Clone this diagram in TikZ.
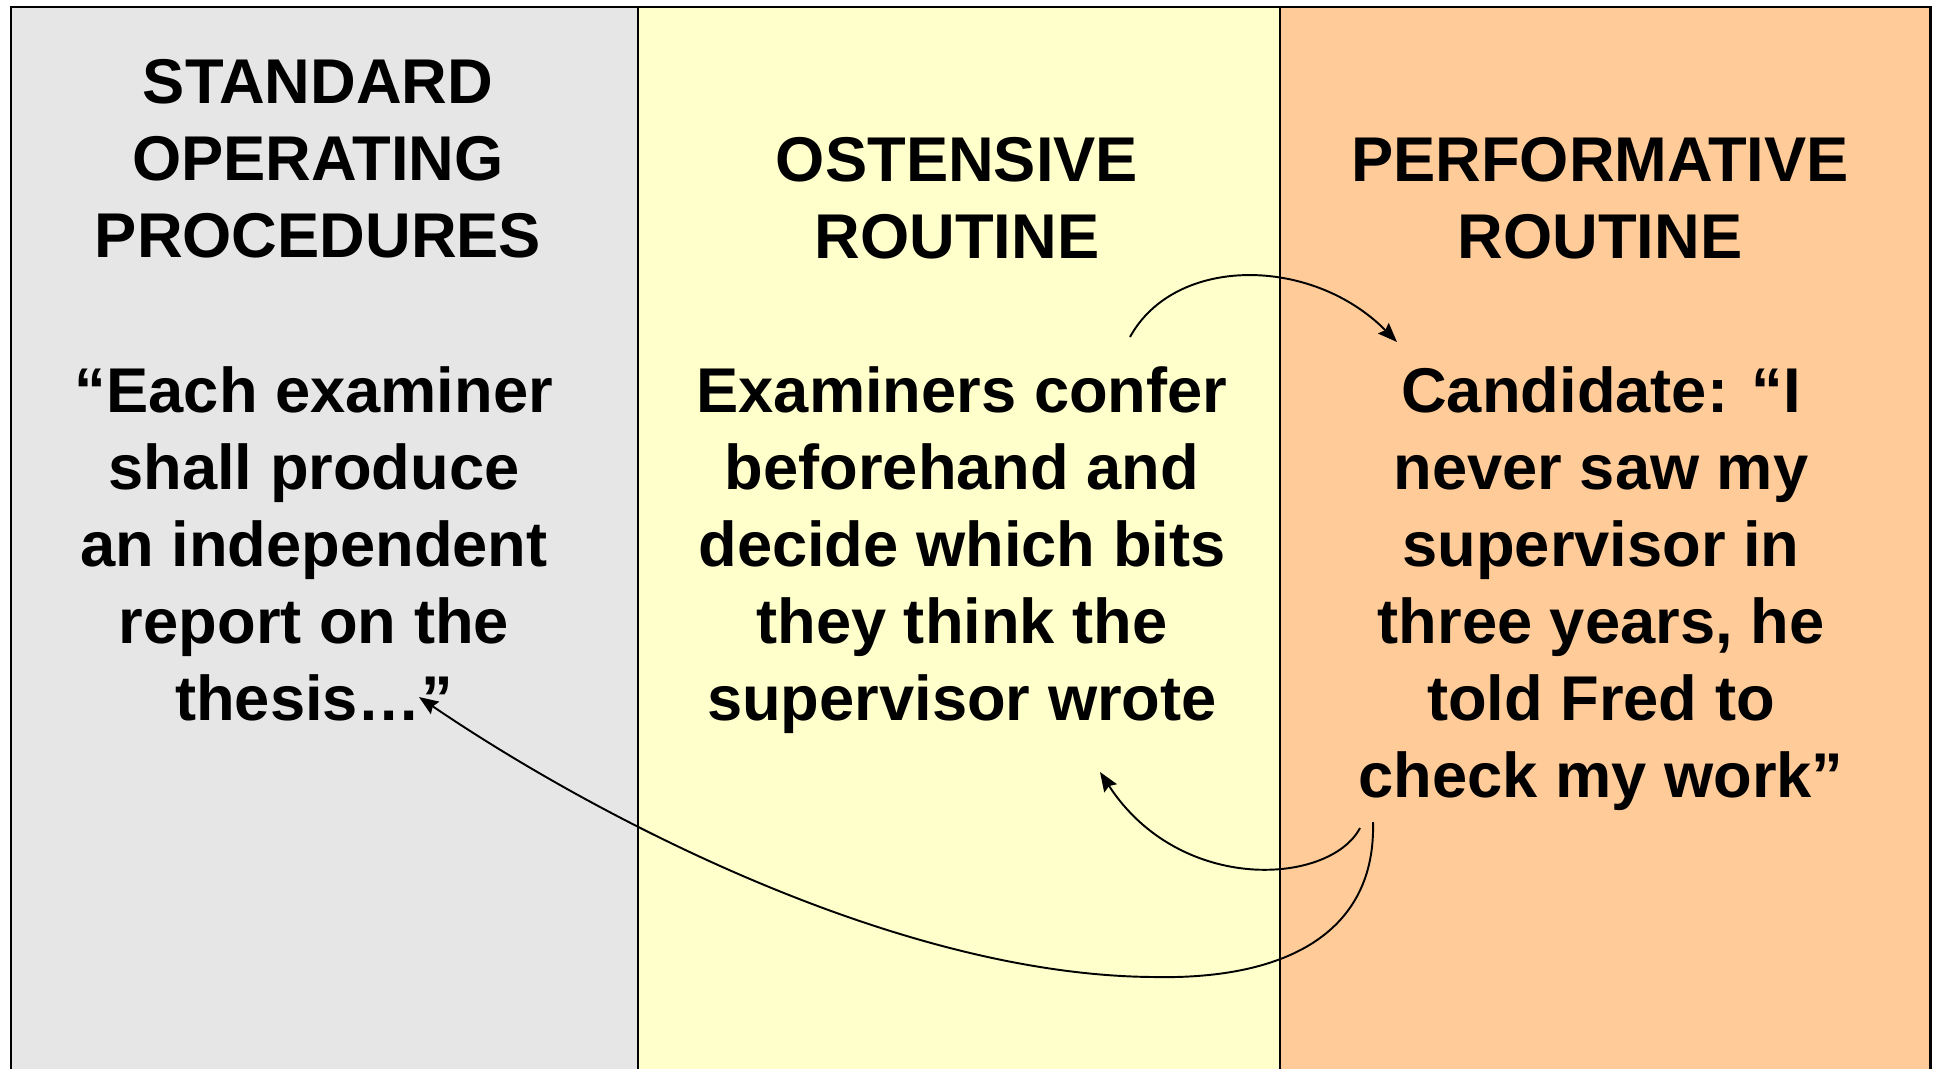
\documentclass[tikz,border=0pt]{standalone}
\usepackage{fontspec}
\setmainfont{Liberation Sans}
\usetikzlibrary{arrows.meta,positioning}
\definecolor{sopgray}{RGB}{230,230,230}
\definecolor{ostyellow}{RGB}{255,255,204}
\definecolor{perforange}{RGB}{255,204,153}
\tikzset{
  coltext/.style={font=\fontsize{36}{43.8}\selectfont\bfseries, align=center, inner sep=0pt},
  linkarrow/.style={-{Stealth[length=11pt,width=8.5pt,inset=1.5pt]}, line width=1.1pt}
}

\begin{document}
\begin{tikzpicture}[x=0.02cm,y=-0.02cm]
\useasboundingbox (0,0) rectangle (1934,1069);
% -- Columns --
\fill[sopgray] (11,7) rectangle (638,1069);
\fill[ostyellow] (638,7) rectangle (1280,1069);
\fill[perforange] (1280,7) rectangle (1930,1069);
\draw[line width=1.7pt] (11,1069) -- (11,7) -- (1930,7) -- (1930,1069);
\draw[line width=1.4pt] (638,7) -- (638,1069);
\draw[line width=1.4pt] (1280,7) -- (1280,1069);
% -- Headings --
\node[coltext] (sopHead) at (318,159) {STANDARD\\OPERATING\\PROCEDURES};
\node[coltext] (ostHead) at (957,198) {OSTENSIVE\\ROUTINE};
\node[coltext] (perfHead) at (1600,198) {PERFORMATIVE\\ROUTINE};
% -- Quotes and notes --
\node[coltext] (sopText) at (314,544) {“Each examiner\\shall produce\\an independent\\report on the\\thesis…”};
\node[coltext] (ostText) at (962,550) {Examiners confer\\beforehand and\\decide which bits\\they think the\\supervisor wrote};
\node[coltext] (perfText) at (1601,589) {Candidate: “I\\never saw my\\supervisor in\\three years, he\\told Fred to\\check my work”};
% Arrow ends
\coordinate (ostFrom) at (1130,337);
\coordinate (perfTo) at (1397,342);
\coordinate (perfFromA) at (1360,828);
\coordinate (ostTo) at (1100,772);
\coordinate (perfFromB) at (1373,822);
\coordinate (sopTo) at (419,697);
% -- Links --
\draw[linkarrow] (ostFrom) .. controls (1175,255) and (1312,256) .. (perfTo);
\draw[linkarrow] (perfFromA) .. controls (1330,885) and (1180,895) .. (ostTo);
\draw[linkarrow] (perfFromB) .. controls (1376,930) and (1290,980) .. (1153,977)
  .. controls (900,975) and (600,820) .. (sopTo);
\end{tikzpicture}
\end{document}
